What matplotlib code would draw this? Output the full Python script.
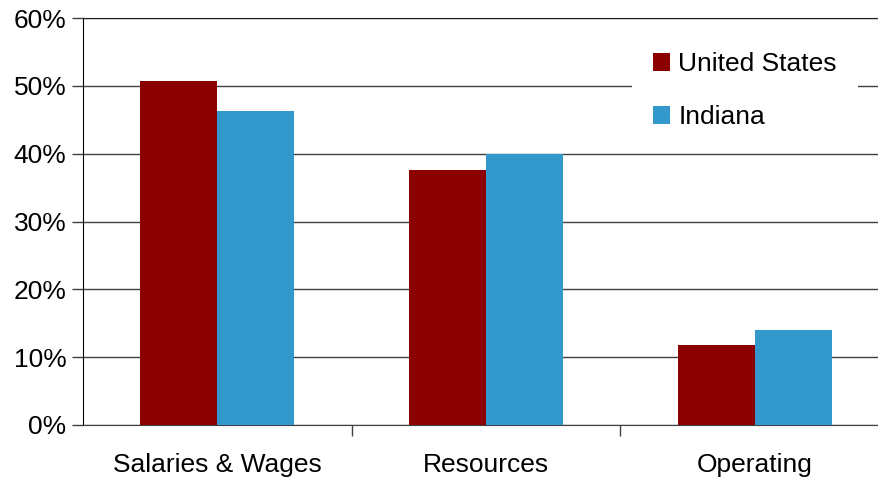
import numpy as np
import matplotlib.pyplot as plt
from matplotlib.ticker import PercentFormatter

plt.rcParams['font.family'] = ['Liberation Sans', 'DejaVu Sans']

categories = ['Salaries & Wages', 'Resources', 'Operating']
us = [50.7, 37.6, 11.8]
indiana = [46.3, 39.9, 14.0]

fig = plt.figure(figsize=(8.79, 4.83), dpi=100)
ax = fig.add_axes([83 / 879, 58 / 483, 806 / 879, 407 / 483])

x = np.arange(len(categories))
w = 0.287
ax.bar(x - w / 2, us, w, color='#8b0000', label='United States', zorder=3)
ax.bar(x + w / 2, indiana, w, color='#3399cc', label='Indiana', zorder=3)

ax.set_xlim(-0.5, 2.5)
ax.set_ylim(0, 60)
ax.set_yticks(np.arange(0, 61, 10))
ax.yaxis.set_major_formatter(PercentFormatter(decimals=0))
ax.yaxis.grid(True, color='#404040', lw=1, zorder=0)

ax.set_xticks(x)
ax.set_xticklabels(categories)
ax.set_xticks([0.5, 1.5], minor=True)
ax.tick_params(axis='x', which='major', length=0, pad=20, labelsize=19)
ax.tick_params(axis='x', which='minor', length=8, width=1, color='#404040')
ax.tick_params(axis='y', length=8, width=1, color='#404040', labelsize=19, pad=4)

ax.spines['right'].set_visible(False)
ax.spines['top'].set_color('#202020')
ax.spines['left'].set_color('black')
ax.spines['bottom'].set_color('#404040')

leg = ax.legend(loc='upper left', bbox_to_anchor=(632 / 879, 1 - 31 / 483),
                bbox_transform=fig.transFigure, fontsize=19, frameon=True,
                fancybox=False, edgecolor='none', facecolor='white', framealpha=1,
                handlelength=0.65, handleheight=0.65, handletextpad=0.3,
                labelspacing=1.11, borderpad=0.8, borderaxespad=0)
leg.set_zorder(5)

fig.savefig('out.png', dpi=100)
